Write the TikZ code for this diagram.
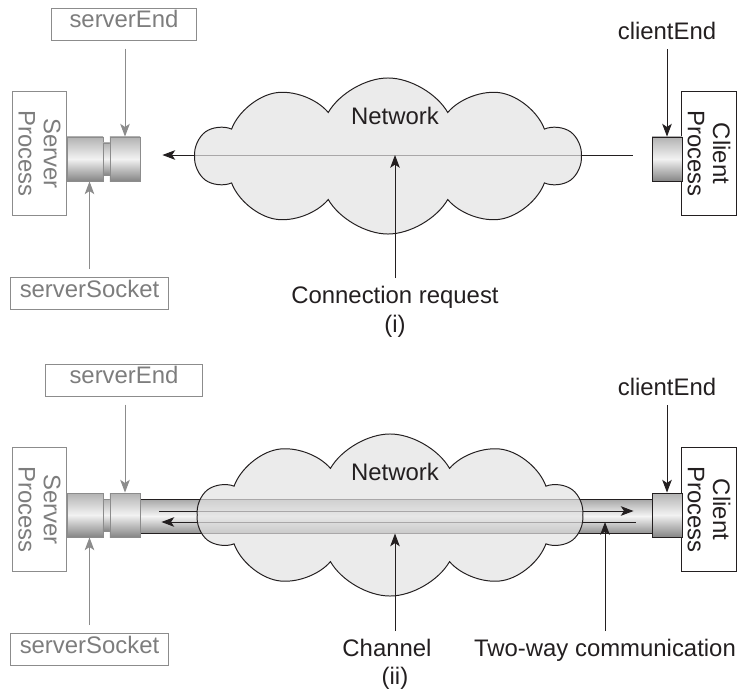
\documentclass[tikz,border=0pt]{standalone}
\usepackage{fontspec}
\setmainfont{Liberation Sans}
\usetikzlibrary{arrows.meta,positioning,shapes.symbols,calc}
\definecolor{ink}{RGB}{35,31,32}
\definecolor{dim}{RGB}{125,125,125}
\definecolor{dimline}{RGB}{140,140,140}
\definecolor{cloudfill}{RGB}{226,226,226}
\tikzset{
	lbl/.style   = {font=\fontsize{17}{18}\selectfont,text=ink,inner sep=1pt,
		text height=0.72em,text depth=0.22em},
	gbox/.style  = {rectangle,draw=dimline,line width=0.7pt,text=dim,
		font=\fontsize{17}{18}\selectfont,minimum height=0.8cm,inner sep=0pt,
		text height=0.72em,text depth=0.22em},
	proc/.style  = {rectangle,rotate=-90,draw=ink,line width=0.7pt,text=ink,
		minimum width=3.08cm,minimum height=1.36cm,align=center,inner sep=0pt,
		font=\fontsize{17}{18}\selectfont},
	sock/.style  = {rectangle,draw=ink,line width=0.6pt,top color=black!30,
		bottom color=black!48,middle color=black!5,minimum width=0.75cm,
		minimum height=1.1cm,inner sep=0pt},
	gsock/.style = {sock,draw=dimline},
	tube/.style  = {rectangle,draw=ink,line width=0.7pt,top color=black!35,
		bottom color=black!42,middle color=black!4,minimum width=12.8cm,
		minimum height=0.85cm,inner sep=0pt},
	net/.style   = {cloud,cloud puffs=10,cloud puff arc=120,cloud ignores aspect,
		draw=ink,line width=0.7pt,fill=cloudfill,fill opacity=0.7,
		minimum width=9.6cm,minimum height=3.9cm},
	arr/.style   = {-{Stealth[length=0.32cm,width=0.24cm,inset=0.08cm]},
		line width=0.7pt,ink},
	garr/.style  = {arr,dimline},
}

\begin{document}
\begin{tikzpicture}[x=0.025cm,y=-0.025cm]
	\useasboundingbox (0,0) rectangle (738,698);
	
	%% Kanal (ii), unter allem anderen
	\node (chanB) [tube] at (396,516) {};
	
	%% Server und Client, in beiden Teilbildern gleich
	\foreach \p/\dy/\sew in {A/0/3.63,B/356/3.93}{
		\node (srv\p)   [proc,draw=dimline,text=dim] at (39.5,153.5+\dy) {Server\\Process};
		\node (sockL\p) [gsock,minimum width=0.9cm] at (85,159+\dy) {};
		\node (neck\p)  [gsock,minimum width=0.175cm,minimum height=0.8cm] at (106.5,159+\dy) {};
		\node (sockR\p) [gsock] at (125,159+\dy) {};
		\node (se\p) [gbox,minimum width=\sew cm] at (124,24+\dy) {serverEnd};
		\node (ss\p) [gbox,minimum width=3.93cm] at (89.5,293.5+\dy) {serverSocket};
		\draw[garr,shorten <=0.2cm] (se\p.south -| sockR\p.north) -- (sockR\p.north);
		\draw[garr,shorten <=0.2cm] (ss\p.north) -- (ss\p.north |- sockL\p.south);
		
		\node (cli\p)   [proc] at (709,153.5+\dy) {Client\\Process};
		\node (sockC\p) [sock] at (667,159+\dy) {};
		\node (ce\p) [lbl] at (667,36+\dy) {clientEnd};
		\draw[arr,shorten <=0.12cm] (ce\p.south) -- (sockC\p.north);
	}
	
	%% Teilbild (i)
	\coordinate (lineAR) at ($(sockCA.west)+(-19,-4)$);
	\coordinate (lineAL) at ($(sockRA.east)+(22,-4)$);
	\draw[arr] (lineAR) -- (lineAL);
	\node (cloudA) [net] at (388,156) {};
	\node (netA) [lbl] at (395,121) {Network};
	\node (reqA) [lbl] at (395,299.5) {Connection request};
	\node (capA) [lbl] at (395,329) {(i)};
	\draw[arr,shorten <=0.33cm] (reqA.north) -- (reqA.north |- lineAL);
	
	%% Teilbild (ii)
	\coordinate (upL) at ($(chanB.west)+(20,-5)$);
	\coordinate (upR) at ($(chanB.east)+(-19,-5)$);
	\coordinate (loR) at ($(chanB.east)+(-17,6)$);
	\coordinate (loL) at ($(chanB.west)+(22,6)$);
	\draw[arr] (upL) -- (upR);
	\draw[arr] (loR) -- (loL);
	\node (cloudB) [net,minimum height=4.05cm] at (390,515) {};
	\node (netB) [lbl] at (395,476.5) {Network};
	\node (chnB) [lbl] at (387,652.5) {Channel};
	\node (twoB) [lbl] at (605,652.5) {Two-way communication};
	\node (capB) [lbl] at (395,681) {(ii)};
	\draw[arr,shorten <=0.33cm] (chnB.north -| capB) -- (chanB.south -| capB);
	\draw[arr,shorten <=0.33cm] (twoB.north) -- (twoB.north |- loR);
\end{tikzpicture}
\end{document}
